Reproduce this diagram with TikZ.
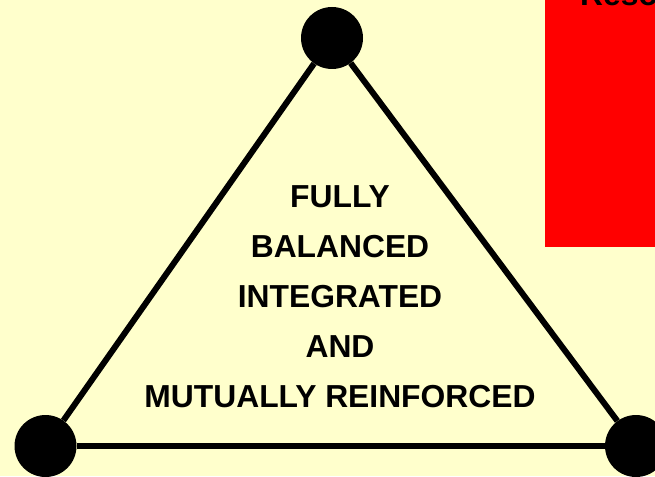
\documentclass[tikz,border=0pt]{standalone}
\usepackage{fontspec}
\setmainfont{Liberation Sans}
\usepackage{xcolor}
\usepackage{tikz}
\usetikzlibrary{positioning,backgrounds}

\definecolor{paper}{HTML}{FFFFCC}
\definecolor{block}{HTML}{FF0000}

\begin{document}
\begin{tikzpicture}[
    x=1pt, y=-1pt,
    vertex/.style={circle, fill=black, inner sep=0pt, minimum size=62pt},
    edge/.style={line width=6pt, black},
    label/.style={font=\fontsize{31.8}{50}\selectfont\bfseries, align=center, inner sep=0pt}
]

% page
\useasboundingbox[fill=paper] (0,0) rectangle (655,476);

% red block, top right
\node[fill=block, draw=none, inner sep=0pt, minimum width=112pt, minimum height=250pt, anchor=north west] (res) at (545,-3) {};
\node[label, anchor=base west] (restxt) at (580,6) {Reso};

% triangle corners
\node[vertex] (top) at (332,38) {};
\node[vertex] (left) at (45.5,446) {};
\node[vertex] (right) at (636,446) {};

\draw[edge] (top) -- (left);
\draw[edge] (left) -- (right);
\draw[edge] (right) -- (top);

% centre text
\node[label, anchor=base] (txt) at (340,407) {FULLY\\BALANCED\\INTEGRATED\\AND\\MUTUALLY REINFORCED};

\end{tikzpicture}
\end{document}
